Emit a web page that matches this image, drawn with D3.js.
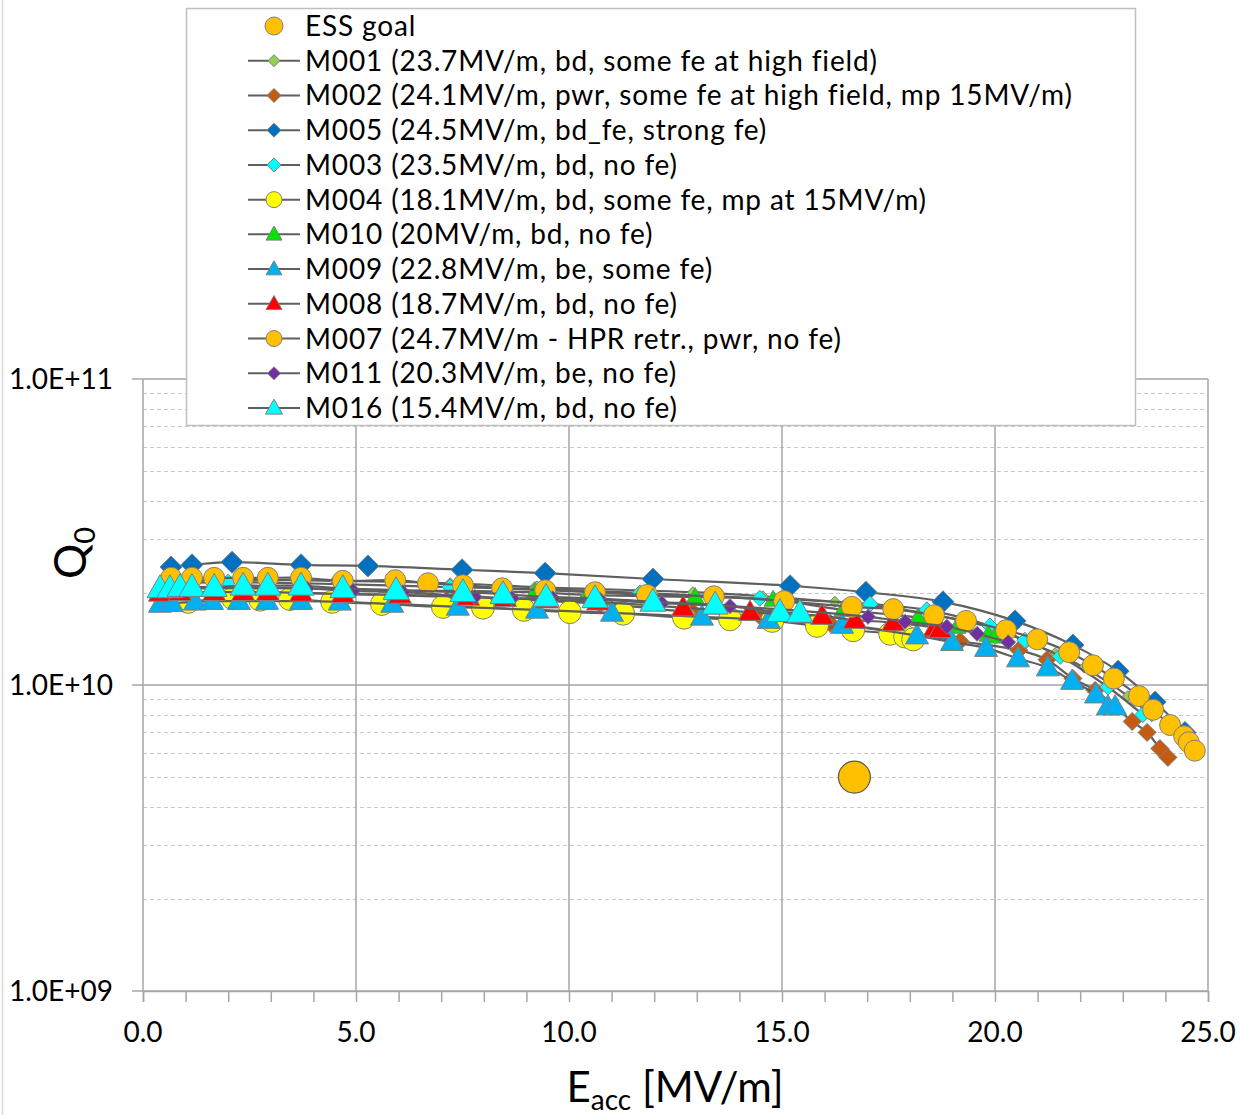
<!DOCTYPE html>
<html lang="en">
<head>
	<meta charset="UTF-8">
	<title>Q0 vs Eacc</title>
	<script src="https://cdn.jsdelivr.net/npm/d3@7"></script>
	<style>
		body{ margin:0; background:#fff; }
		text{ font-family:Lato, "Open Sans", sans-serif; fill:#000; }
	</style>
</head>
<body>
<script type="text/javascript">

	// Eacc [MV/m] and Q0 for every cavity
	var essE = [16.7], essQ = [5.0e9];

	var m001E = [0.52, 1.67, 3.71, 4.51, 7.21, 9.20, 12.91, 14.55, 16.24, 17.77, 19.18, 20.12, 20.75, 21.41, 22.09, 23.12, 23.68];
	var m001Q = [2.17e10, 2.20e10, 2.20e10, 2.19e10, 2.15e10, 2.09e10, 2.01e10, 1.95e10, 1.87e10, 1.77e10, 1.63e10, 1.51e10, 1.38e10, 1.27e10, 1.14e10, 0.92e10, 0.79e10];

	var m002E = [0.52, 1.67, 3.71, 7.21, 10.73, 12.91, 14.48, 16.13, 17.77, 19.18, 20.56, 21.22, 21.83, 22.35, 23.22, 23.57, 23.87, 24.06];
	var m002Q = [2.01e10, 2.01e10, 2.00e10, 1.94e10, 1.84e10, 1.73e10, 1.68e10, 1.59e10, 1.49e10, 1.39e10, 1.30e10, 1.21e10, 1.05e10, 0.96e10, 0.76e10, 0.70e10, 0.62e10, 0.58e10];

	var m005E = [0.66, 1.15, 2.09, 3.71, 5.28, 7.49, 9.44, 11.97, 15.19, 16.97, 18.78, 20.47, 21.83, 22.89, 23.76, 24.46];
	var m005Q = [2.43e10, 2.47e10, 2.52e10, 2.47e10, 2.45e10, 2.38e10, 2.32e10, 2.22e10, 2.11e10, 2.01e10, 1.87e10, 1.62e10, 1.35e10, 1.11e10, 0.88e10, 0.70e10];

	var m003E = [0.66, 2.00, 3.71, 7.21, 9.25, 11.67, 14.48, 17.07, 18.40, 19.88, 20.70, 21.53, 22.65, 23.47];
	var m003Q = [2.15e10, 2.17e10, 2.15e10, 2.09e10, 2.06e10, 2.00e10, 1.92e10, 1.84e10, 1.76e10, 1.56e10, 1.40e10, 1.24e10, 0.985e10, 0.80e10];

	var m004E = [1.06, 2.11, 2.75, 3.45, 4.44, 5.61, 7.04, 7.98, 8.94, 10.02, 11.27, 12.70, 13.78, 14.77, 15.82, 16.67, 17.54, 17.89, 18.08];
	var m004Q = [1.87e10, 1.92e10, 1.90e10, 1.91e10, 1.87e10, 1.84e10, 1.80e10, 1.79e10, 1.76e10, 1.73e10, 1.71e10, 1.66e10, 1.64e10, 1.62e10, 1.56e10, 1.51e10, 1.47e10, 1.44e10, 1.41e10];

	var m010E = [0.40, 1.67, 3.71, 6.03, 9.20, 10.42, 12.96, 14.79, 16.43, 18.19, 19.11, 19.84, 20.00];
	var m010Q = [2.07e10, 2.07e10, 2.07e10, 2.04e10, 2.01e10, 1.97e10, 1.94e10, 1.90e10, 1.76e10, 1.66e10, 1.55e10, 1.46e10, 1.44e10];

	var m009E = [0.40, 0.68, 1.22, 1.62, 2.25, 2.91, 3.71, 4.62, 5.85, 7.39, 9.25, 11.01, 13.12, 14.69, 16.41, 18.17, 18.99, 19.79, 20.54, 21.24, 21.81, 22.37, 22.65, 22.82];
	var m009Q = [1.84e10, 1.85e10, 1.87e10, 1.88e10, 1.88e10, 1.88e10, 1.88e10, 1.87e10, 1.84e10, 1.80e10, 1.76e10, 1.72e10, 1.67e10, 1.63e10, 1.57e10, 1.45e10, 1.38e10, 1.32e10, 1.22e10, 1.14e10, 1.03e10, 0.93e10, 0.85e10, 0.85e10];

	var m008E = [0.40, 0.87, 1.67, 2.35, 2.93, 3.71, 4.69, 6.03, 7.63, 8.50, 9.48, 10.68, 12.68, 14.25, 15.94, 16.71, 17.61, 18.59, 18.71];
	var m008Q = [2.00e10, 2.01e10, 2.01e10, 2.01e10, 2.01e10, 2.00e10, 1.98e10, 1.97e10, 1.94e10, 1.92e10, 1.90e10, 1.87e10, 1.79e10, 1.73e10, 1.68e10, 1.63e10, 1.60e10, 1.54e10, 1.52e10];

	var m007E = [0.66, 1.15, 1.67, 2.35, 2.93, 3.71, 4.69, 5.92, 6.69, 7.51, 8.43, 9.44, 10.61, 11.83, 13.40, 15.05, 16.64, 17.61, 18.57, 19.32, 20.26, 20.99, 21.74, 22.30, 22.79, 23.38, 23.71, 24.11, 24.44, 24.55, 24.69];
	var m007Q = [2.24e10, 2.24e10, 2.24e10, 2.24e10, 2.24e10, 2.24e10, 2.19e10, 2.20e10, 2.15e10, 2.12e10, 2.07e10, 2.04e10, 2.01e10, 1.97e10, 1.95e10, 1.88e10, 1.80e10, 1.77e10, 1.69e10, 1.62e10, 1.51e10, 1.41e10, 1.28e10, 1.16e10, 1.05e10, 0.92e10, 0.83e10, 0.74e10, 0.68e10, 0.65e10, 0.61e10];

	var m011E = [0.63, 1.67, 3.85, 4.93, 6.10, 7.79, 8.66, 9.62, 10.73, 12.18, 13.78, 17.02, 17.89, 18.87, 19.58, 20.31];
	var m011Q = [2.09e10, 2.09e10, 2.07e10, 2.03e10, 2.01e10, 1.94e10, 1.92e10, 1.92e10, 1.90e10, 1.85e10, 1.81e10, 1.67e10, 1.61e10, 1.55e10, 1.47e10, 1.38e10];

	var m016E = [0.40, 0.63, 0.87, 1.15, 1.67, 2.35, 2.93, 3.71, 4.69, 5.94, 7.51, 8.45, 9.46, 10.61, 11.97, 13.43, 14.95, 15.42];
	var m016Q = [2.07e10, 2.07e10, 2.09e10, 2.09e10, 2.09e10, 2.11e10, 2.11e10, 2.11e10, 2.07e10, 2.04e10, 2.01e10, 1.98e10, 1.94e10, 1.92e10, 1.87e10, 1.83e10, 1.73e10, 1.72e10];

	var legendLabels = [
		'ESS goal',
		'M001 (23.7MV/m, bd, some fe at high field)',
		'M002 (24.1MV/m, pwr, some fe at high field, mp 15MV/m)',
		'M005 (24.5MV/m, bd_fe, strong fe)',
		'M003 (23.5MV/m, bd, no fe)',
		'M004 (18.1MV/m, bd, some fe, mp at 15MV/m)',
		'M010 (20MV/m, bd, no fe)',
		'M009 (22.8MV/m, be, some fe)',
		'M008 (18.7MV/m, bd, no fe)',
		'M007 (24.7MV/m - HPR retr., pwr, no fe)',
		'M011 (20.3MV/m, be, no fe)',
		'M016 (15.4MV/m, bd, no fe)'
	];

	var xTicks = [0, 5, 10, 15, 20, 25];
	var yTicks = [1e9, 1e10, 1e11];

	window.onload = function () {

		function zip(es, qs) {
			return es.map(function (e, i) { return [e, qs[i]]; });
		}

		// style for each series (legend order = drawing order)
		var series = [
			{data: zip(m001E, m001Q), color: '#92D050', shape: 'diamond', size: 11, lsize: 12},
			{data: zip(m002E, m002Q), color: '#C55A11', shape: 'diamond', size: 18, lsize: 14},
			{data: zip(m005E, m005Q), color: '#0070C0', shape: 'diamond', size: 22, lsize: 14},
			{data: zip(m003E, m003Q), color: '#00FFFF', shape: 'diamond', size: 16, lsize: 14},
			{data: zip(m004E, m004Q), color: '#FFFF00', shape: 'circle', size: 23, lsize: 16},
			{data: zip(m010E, m010Q), color: '#00E600', shape: 'triangle', size: 18, lsize: 16},
			{data: zip(m009E, m009Q), color: '#00B0F0', shape: 'triangle', size: 23, lsize: 16},
			{data: zip(m008E, m008Q), color: '#FF0000', shape: 'triangle', size: 23, lsize: 16},
			{data: zip(m007E, m007Q), color: '#FFC000', shape: 'circle', size: 21, lsize: 16},
			{data: zip(m011E, m011Q), color: '#7030A0', shape: 'diamond', size: 15, lsize: 13},
			{data: zip(m016E, m016Q), color: '#00FFFF', shape: 'triangle', size: 26, lsize: 17}
		];

		function markerPath(shape, s) {
			var h = s / 2;
			if (shape === 'diamond') {
				return 'M0,' + (-h) + 'L' + h + ',0L0,' + h + 'L' + (-h) + ',0Z';
			}
			if (shape === 'triangle') {
				return 'M0,' + (-0.52 * s) + 'L' + h + ',' + (0.36 * s) + 'L' + (-h) + ',' + (0.36 * s) + 'Z';
			}
			return 'M' + h + ',0A' + h + ',' + h + ' 0 1,1 ' + (-h) + ',0A' + h + ',' + h + ' 0 1,1 ' + h + ',0Z';
		}

		var W = 1241, H = 1115;
		var plot = {left: 143, right: 1208, top: 379, bottom: 991};

		var svg = d3.select('body').append('svg')
			.attr('width', W)
			.attr('height', H);

		// chart frame edge
		svg.append('line')
			.attr('x1', 2.5).attr('x2', 2.5).attr('y1', 0).attr('y2', H)
			.attr('stroke', '#d9d9d9').attr('stroke-width', 1.5);

		var x = d3.scaleLinear().domain([0, 25]).range([plot.left, plot.right]);
		var y = d3.scaleLog().domain([1e9, 1e11]).range([plot.bottom, plot.top]);

		// minor horizontal gridlines
		var minor = [];
		[1e9, 1e10].forEach(function (d) {
			for (var k = 2; k <= 9; k++) minor.push(d * k);
		});
		svg.append('g').selectAll('line')
			.data(minor)
			.enter().append('line')
			.attr('x1', plot.left).attr('x2', plot.right)
			.attr('y1', function (d) { return Math.round(y(d)) + 0.5; })
			.attr('y2', function (d) { return Math.round(y(d)) + 0.5; })
			.attr('stroke', '#c8c8c8')
			.attr('stroke-dasharray', '4,3')
			.attr('stroke-width', 1);

		// major gridlines
		svg.append('g').selectAll('line')
			.data(yTicks)
			.enter().append('line')
			.attr('x1', plot.left - 11).attr('x2', plot.right)
			.attr('y1', function (d) { return y(d); })
			.attr('y2', function (d) { return y(d); })
			.attr('stroke', '#a6a6a6')
			.attr('stroke-width', 1.5);

		svg.append('g').selectAll('line')
			.data(xTicks)
			.enter().append('line')
			.attr('x1', function (d) { return x(d); })
			.attr('x2', function (d) { return x(d); })
			.attr('y1', plot.top).attr('y2', plot.bottom)
			.attr('stroke', '#a6a6a6')
			.attr('stroke-width', 1.5);

		// x axis with minor ticks
		var xAxis = d3.axisBottom(x)
			.tickValues(d3.range(0, 26, 1))
			.tickSize(11)
			.tickFormat('');
		var gx = svg.append('g')
			.attr('transform', 'translate(0,' + plot.bottom + ')')
			.call(xAxis);
		gx.select('.domain').attr('stroke', '#a6a6a6').attr('stroke-width', 1.5);
		gx.selectAll('.tick line').attr('stroke', '#a6a6a6').attr('stroke-width', 1.5);

		svg.append('g').selectAll('text')
			.data(xTicks)
			.enter().append('text')
			.attr('x', function (d) { return x(d); })
			.attr('y', 1042)
			.attr('text-anchor', 'middle')
			.attr('font-size', 28)
			.text(function (d) { return d3.format('.1f')(d); });

		svg.append('g').selectAll('text')
			.data(yTicks)
			.enter().append('text')
			.attr('x', 113)
			.attr('y', function (d) { return y(d) + 10; })
			.attr('text-anchor', 'end')
			.attr('font-size', 28)
			.text(function (d) { return d.toExponential(1).toUpperCase().replace(/E\+(\d)$/, 'E+0$1'); });

		// axis titles
		var xt = svg.append('text')
			.attr('x', 675)
			.attr('y', 1102)
			.attr('text-anchor', 'middle')
			.attr('font-size', 42);
		xt.append('tspan').text('E');
		xt.append('tspan').attr('font-size', 28).attr('dy', 8).text('acc');
		xt.append('tspan').attr('dy', -8).text(' [MV/m]');

		var yt = svg.append('text')
			.attr('transform', 'translate(86,553) rotate(-90)')
			.attr('text-anchor', 'middle')
			.attr('font-size', 44);
		yt.append('tspan').text('Q');
		yt.append('tspan').attr('font-size', 29).attr('dy', 9).text('0');

		// series: line then markers
		var line = d3.line()
			.x(function (d) { return x(d[0]); })
			.y(function (d) { return y(d[1]); })
			.curve(d3.curveCatmullRom.alpha(0.5));

		series.forEach(function (s) {
			var g = svg.append('g');
			g.append('path')
				.datum(s.data)
				.attr('d', line)
				.attr('fill', 'none')
				.attr('stroke', '#5f5f5f')
				.attr('stroke-width', 2.2);
			g.selectAll('.mk')
				.data(s.data)
				.enter().append('path')
				.attr('class', 'mk')
				.attr('transform', function (d) { return 'translate(' + x(d[0]) + ',' + y(d[1]) + ')'; })
				.attr('d', markerPath(s.shape, s.size))
				.attr('fill', s.color)
				.attr('stroke', '#7f7f7f')
				.attr('stroke-width', 1);
		});

		// ESS goal
		svg.append('g').selectAll('path')
			.data(zip(essE, essQ))
			.enter().append('path')
			.attr('transform', function (d) { return 'translate(' + x(d[0]) + ',' + y(d[1]) + ')'; })
			.attr('d', markerPath('circle', 32))
			.attr('fill', '#FFC000')
			.attr('stroke', '#595959')
			.attr('stroke-width', 1.2);

		// legend
		var lg = svg.append('g');
		lg.append('rect')
			.attr('x', 186.5).attr('y', 8.5)
			.attr('width', 949).attr('height', 417)
			.attr('fill', '#fff')
			.attr('stroke', '#bfbfbf')
			.attr('stroke-width', 1.5);

		var rowY = d3.scaleLinear().domain([0, 11]).range([26, 408]);
		var styles = [{shape: 'circle', color: '#FFC000', lsize: 18, noLine: true}].concat(series);

		legendLabels.forEach(function (label, i) {
			var st = styles[i];
			var cy = rowY(i);
			if (!st.noLine) {
				lg.append('line')
					.attr('x1', 248).attr('x2', 300)
					.attr('y1', cy).attr('y2', cy)
					.attr('stroke', '#5f5f5f')
					.attr('stroke-width', 2);
			}
			lg.append('path')
				.attr('transform', 'translate(274,' + cy + ')')
				.attr('d', markerPath(st.shape, st.lsize))
				.attr('fill', st.color)
				.attr('stroke', '#7f7f7f')
				.attr('stroke-width', 1);
			lg.append('text')
				.attr('x', 305)
				.attr('y', cy + 10)
				.attr('font-size', 28)
				.attr('letter-spacing', 0.85)
				.text(label);
		});
	};
</script>

</body>
</html>
